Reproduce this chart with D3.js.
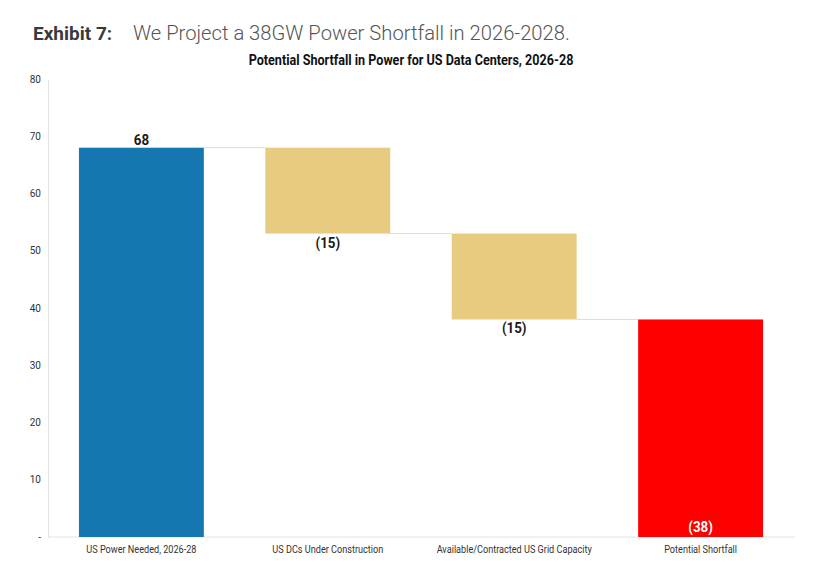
<!DOCTYPE html>
<html>
<head>
<meta charset="utf-8">
<script src="https://cdn.jsdelivr.net/npm/d3@7"></script>
<style>
  body { margin: 0; background: #fff; }
  svg text { font-family: Roboto, sans-serif; }
</style>
</head>
<body>
<div id="chart"></div>
<script>
// chart values
const categories = ["US Power Needed, 2026-28", "US DCs Under Construction", "Available/Contracted US Grid Capacity", "Potential Shortfall"];
const values = [68, -15, -15, 38];
const kinds = ["total", "delta", "delta", "total"];
const valueLabels = ["68", "(15)", "(15)", "(38)"];
const yTicks = [0, 10, 20, 30, 40, 50, 60, 70, 80];
const colors = ["#1677b0", "#e7cb80", "#e7cb80", "#ff0000"];

const width = 830, height = 570;

// work out start / end of every bar
let running = 0;
const bars = categories.map((c, i) => {
  let y0, y1;
  if (kinds[i] === "total") {
    y0 = 0; y1 = values[i];
    running = values[i];
  } else {
    y0 = running; y1 = running + values[i];
    running = y1;
  }
  return { cat: c, y0: y0, y1: y1, label: valueLabels[i], kind: kinds[i], color: colors[i] };
});

const svg = d3.select("#chart").append("svg")
  .attr("width", width)
  .attr("height", height);

// header
svg.append("text").attr("x", 33).attr("y", 40)
  .attr("font-weight", "bold").attr("fill", "#3a3a3a")
  .style("font-size", "19px")
  .text("Exhibit 7:");
svg.append("text").attr("x", 133).attr("y", 40)
  .attr("font-weight", 300).attr("fill", "#555")
  .style("font-size", "20.2px")
  .text("We Project a 38GW Power Shortfall in 2026-2028.");

// condensed look: squeeze text horizontally
svg.append("text")
  .attr("transform", "translate(411,65) scale(0.9,1)")
  .attr("text-anchor", "middle")
  .attr("font-weight", "bold")
  .style("font-size", "14px")
  .attr("fill", "#111")
  .text("Potential Shortfall in Power for US Data Centers, 2026-28");

const x = d3.scaleBand()
  .domain(categories)
  .range([48, 794])
  .paddingInner(0.33)
  .paddingOuter(0.166);

const y = d3.scaleLinear()
  .domain([0, 80])
  .range([537, 79]);

// y axis
const yAxis = svg.append("g")
  .attr("transform", "translate(48,0)")
  .call(d3.axisLeft(y).tickValues(yTicks).tickSize(0).tickPadding(7)
    .tickFormat(d => d === 0 ? "-" : d));
yAxis.select(".domain").attr("stroke", "#e2e2e2");
yAxis.selectAll("text").style("font-size", "10px").attr("fill", "#333");

// x baseline
svg.append("line")
  .attr("x1", 48).attr("x2", 795)
  .attr("y1", y(0)).attr("y2", y(0))
  .attr("stroke", "#e2e2e2");

// connectors
for (let i = 0; i < bars.length - 1; i++) {
  const lvl = bars[i].y1;
  svg.append("line")
    .attr("x1", x(bars[i].cat) + x.bandwidth())
    .attr("x2", x(bars[i + 1].cat))
    .attr("y1", y(lvl)).attr("y2", y(lvl))
    .attr("stroke", "#dcdcdc");
}

// bars
svg.selectAll("rect.bar")
  .data(bars)
  .join("rect")
  .attr("class", "bar")
  .attr("x", d => x(d.cat))
  .attr("width", x.bandwidth())
  .attr("y", d => y(Math.max(d.y0, d.y1)))
  .attr("height", d => Math.abs(y(d.y0) - y(d.y1)))
  .attr("fill", d => d.color);

// value labels
svg.selectAll("text.val")
  .data(bars)
  .join("text")
  .attr("class", "val")
  .attr("transform", (d, i) => {
    const cx = x(d.cat) + x.bandwidth() / 2;
    let cy;
    if (i === 0) cy = y(d.y1) - 3;
    else if (i === bars.length - 1) cy = y(0) - 5;
    else cy = y(Math.min(d.y0, d.y1)) + 14;
    return `translate(${cx},${cy}) scale(0.92,1)`;
  })
  .attr("text-anchor", "middle")
  .attr("font-weight", "bold")
  .style("font-size", "14.5px")
  .attr("fill", (d, i) => i === bars.length - 1 ? "#fff" : "#1a1a1a")
  .text(d => d.label);

// category labels
svg.selectAll("text.cat")
  .data(categories)
  .join("text")
  .attr("class", "cat")
  .attr("transform", d => `translate(${x(d) + x.bandwidth() / 2},553) scale(0.83,1)`)
  .attr("text-anchor", "middle")
  .style("font-size", "11px")
  .attr("fill", "#333")
  .text(d => d);
</script>
</body>
</html>
